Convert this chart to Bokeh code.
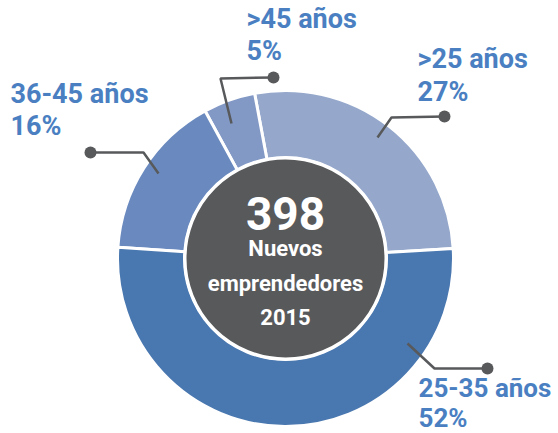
import math
from bokeh.plotting import figure
from bokeh.models import Range1d, ColumnDataSource
from bokeh.core.properties import value
from bokeh.embed import file_html
from bokeh.resources import INLINE

# ---- data ----
categories = [">25 años", ">45 años", "36-45 años", "25-35 años"]
percents = [27, 5, 16, 52]
total_label = "398"
center_lines = ["Nuevos", "emprendedores", "2015"]
colors = ["#95a8cc", "#8299c6", "#6a8abf", "#4977af"]

TXT = "#4a7fc2"
DARK = "#58595b"
FONT = value("Roboto")

W, H = 558, 433
p = figure(width=W, height=H, output_backend="svg", toolbar_location=None,
           x_range=Range1d(0, W), y_range=Range1d(0, H),
           min_border=0)
p.axis.visible = False
p.grid.visible = False
p.outline_line_color = None
p.background_fill_color = None
p.border_fill_color = None

def Y(ys):
    return H - ys

TOFF = 10  # baseline calibration

def YT(ys):
    return H - (ys - TOFF)

cx, cy = 285, Y(258)
offset = math.radians(3.4)
starts, ends = [], []
acc = 0
for v in percents:
    starts.append(offset + acc / 100 * 2 * math.pi)
    acc += v
    ends.append(offset + acc / 100 * 2 * math.pi)

src = ColumnDataSource(dict(start=starts, end=ends, color=colors, cat=categories))
p.annular_wedge(x=cx, y=cy, inner_radius=101, outer_radius=168,
                inner_radius_units="screen", outer_radius_units="screen",
                start_angle="start", end_angle="end", fill_color="color",
                line_color="white", line_width=3, source=src)

# center circle
p.scatter(x=[cx], y=[cy], size=201, marker="circle", fill_color=DARK,
          line_color="white", line_width=3)

p.text(x=[cx], y=[YT(223)], text=[total_label], text_font=FONT,
       text_font_style="bold", text_font_size="46px", text_color="white",
       text_align="center", text_baseline="alphabetic")
for line, ys in zip(center_lines, [258, 293, 326]):
    p.text(x=[cx], y=[YT(ys)], text=[line], text_font=FONT,
           text_font_style="bold", text_font_size="22px", text_color="white",
           text_align="center", text_baseline="alphabetic")

# labels and leader lines (layout positions in screen px)
label_pos = {
    ">25 años": (417, 68, 101, "27px"),
    ">45 años": (246, 28, 60, "27px"),
    "36-45 años": (10, 103, 135, "27px"),
    "25-35 años": (418, 397, 427, "26px"),
}
leaders = {
    ">25 años": [(444, 116), (391, 117), (377, 137)],
    ">45 años": [(273, 77), (220, 78), (231, 123)],
    "36-45 años": [(90, 152), (143, 152), (158, 173)],
    "25-35 años": [(487, 368), (434, 368), (407, 343)],
}
for cat, pct in zip(categories, percents):
    lx, b1, b2, fs = label_pos[cat]
    p.text(x=[lx], y=[YT(b1)], text=[cat], text_font=FONT, text_font_style="bold",
           text_font_size=fs, text_color=TXT, text_align="left",
           text_baseline="alphabetic")
    p.text(x=[lx], y=[YT(b2)], text=[f"{pct}%"], text_font=FONT, text_font_style="bold",
           text_font_size=fs, text_color=TXT, text_align="left",
           text_baseline="alphabetic")
    pts = leaders[cat]
    p.line(x=[q[0] for q in pts], y=[Y(q[1]) for q in pts], line_color=DARK,
           line_width=2.5)
    p.scatter(x=[pts[0][0]], y=[Y(pts[0][1])], size=12, marker="circle",
              fill_color=DARK, line_color=None)

open("out.html", "w").write(file_html(p, INLINE))
